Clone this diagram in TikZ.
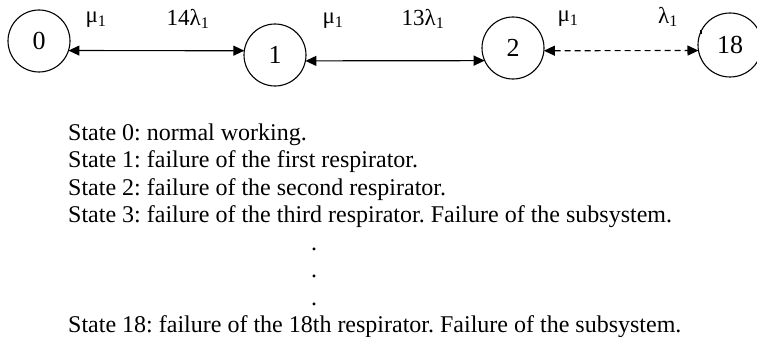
\documentclass[tikz,border=0pt]{standalone}
\usepackage{fontspec}
\setmainfont{Liberation Serif}
\usetikzlibrary{arrows.meta}
\frenchspacing
\begin{document}
\begin{tikzpicture}[x=1pt,y=-1pt,
  state/.style={draw,circle,line width=1.1pt,minimum size=62pt,inner sep=0pt,outer sep=0pt,font=\fontsize{26}{28}\selectfont},
  link/.style={line width=1.2pt,{Triangle[length=11pt,width=10pt]}-{Triangle[length=11pt,width=10pt]}},
  lab/.style={font=\fontsize{23}{25}\selectfont,inner sep=0pt},
  line/.style={anchor=base west,inner sep=0pt,font=\fontsize{24}{26}\selectfont}]
\useasboundingbox (0,0) rectangle (757,337);
\node[state] (s0) at (39,41) {0};
\node[state] (s1) at (275,55) {1};
\node[state] (s2) at (513,48) {2};
\node[state,minimum size=64pt] (s18) at (730,45) {18};
\fill (s18.156) ++(-1.2,-2) rectangle ++(2.6,4);
\draw[link] (s0.-18.8) -- (s1.172.6);
\draw[link] (s1.-11.2) -- (s2.204.8);
\draw[link,dashed,dash pattern=on 6pt off 4pt] (s2.-5.55) -- (s18.190.8);
\node[lab] (m1) at (96,20) {μ\textsubscript{1}};
\node[lab] (l1) at (188,19) {14λ\textsubscript{1}};
\node[lab] (m2) at (333,21) {μ\textsubscript{1}};
\node[lab] (l2) at (423,19) {13λ\textsubscript{1}};
\node[lab] (m3) at (568,19) {μ\textsubscript{1}};
\node[lab] (l3) at (668,17) {λ\textsubscript{1}};
\node[line] (t0) at (68,140) {State 0: normal working.};
\node[line] (t1) at (68,167.5) {State 1: failure of the first respirator.};
\node[line] (t2) at (68,195) {State 2: failure of the second respirator.};
\node[line] (t3) at (68,222.5) {State 3: failure of the third respirator. Failure of the subsystem.};
\node[line] (d1) at (311,250) {.};
\node[line] (d2) at (311,277.5) {.};
\node[line] (d3) at (311,305) {.};
\node[line] (t18) at (68,332) {State 18: failure of the 18th respirator. Failure of the subsystem.};
\end{tikzpicture}
\end{document}
